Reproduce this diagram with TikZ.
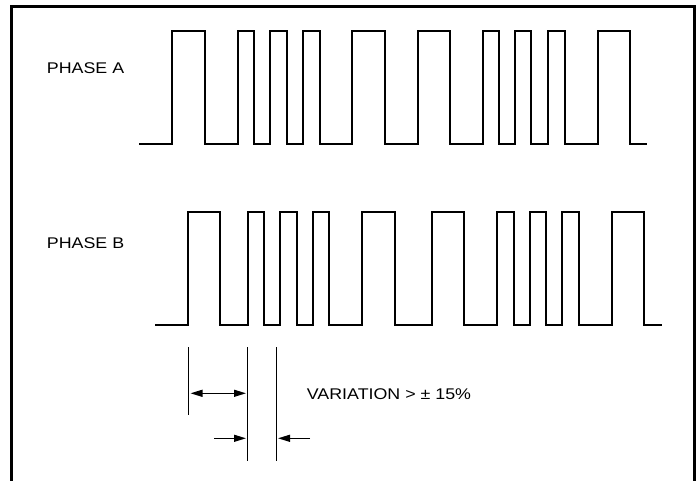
\documentclass[tikz,border=0pt]{standalone}
\usepackage{fontspec}
\setmainfont{Liberation Sans}
\newfontfamily\labfont[FakeStretch=1.15]{Liberation Sans}
\usetikzlibrary{arrows.meta}
\tikzset{
  wave/.style={line width=1.5pt, line join=miter},
  frame/.style={line width=2.7pt},
  dimline/.style={line width=1.3pt},
  dimarrow/.style={line width=1.3pt, -{Triangle[length=12pt,width=7pt]}},
  dimdouble/.style={line width=1.3pt, {Triangle[length=12pt,width=7pt]}-{Triangle[length=12pt,width=7pt]}},
  label/.style={inner sep=0pt, anchor=base west, font=\labfont\fontsize{15.5}{18}\selectfont}
}
\begin{document}
\begin{tikzpicture}[x=1pt,y=-1pt]
\useasboundingbox (0,0) rectangle (699,481);
% frame (open at the bottom)
\draw[frame] (11.2,481) -- (11.2,6.5) -- (694.8,6.5) -- (694.8,481);
% labels
\node[label] (pa) at (46.7,74) {PHASE A};
\node[label] (pb) at (46.7,248.3) {PHASE B};
\node[label] (var) at (306.7,399) {VARIATION > ± 15\%};
% phase A waveform
\draw[wave] (139,144) -| (172,31) -| (205,144) -| (238,31) -| (254,144)
  -| (270,31) -| (287,144) -| (303,31) -| (320,144) -| (352,31) -| (385,144)
  -| (418,31) -| (450,144) -| (483,31) -| (499,144) -| (515,31) -| (531,144)
  -| (548,31) -| (565,144) -| (598,31) -| (630,144) -- (647,144);
% phase B waveform
\draw[wave] (155,325) -| (188,212) -| (220,325) -| (248,212) -| (264,325)
  -| (280,212) -| (297,325) -| (313,212) -| (329,325) -| (362,212) -| (395,325)
  -| (432,212) -| (464,325) -| (497,212) -| (514,325) -| (530,212) -| (546,325)
  -| (562,212) -| (579,325) -| (612,212) -| (644,325) -- (662,325);
% dimension lines
\coordinate (d1t) at (188.7,347.3);
\coordinate (d1b) at (188.7,415.3);
\coordinate (d2t) at (247.7,347.3);
\coordinate (d2b) at (247.7,461);
\coordinate (d3t) at (276.3,347.3);
\coordinate (d3b) at (276.3,461);
\draw[dimline] (d1t) -- (d1b);
\draw[dimline] (d2t) -- (d2b);
\draw[dimline] (d3t) -- (d3b);
\coordinate (a1l) at (190.5,393.3);
\coordinate (a1r) at (246,393.3);
\draw[dimdouble] (a1l) -- (a1r);
\coordinate (a2s) at (214,438.3);
\coordinate (a2e) at (246,438.3);
\draw[dimarrow] (a2s) -- (a2e);
\coordinate (a3s) at (310,438.3);
\coordinate (a3e) at (278,438.3);
\draw[dimarrow] (a3s) -- (a3e);
\end{tikzpicture}
\end{document}
